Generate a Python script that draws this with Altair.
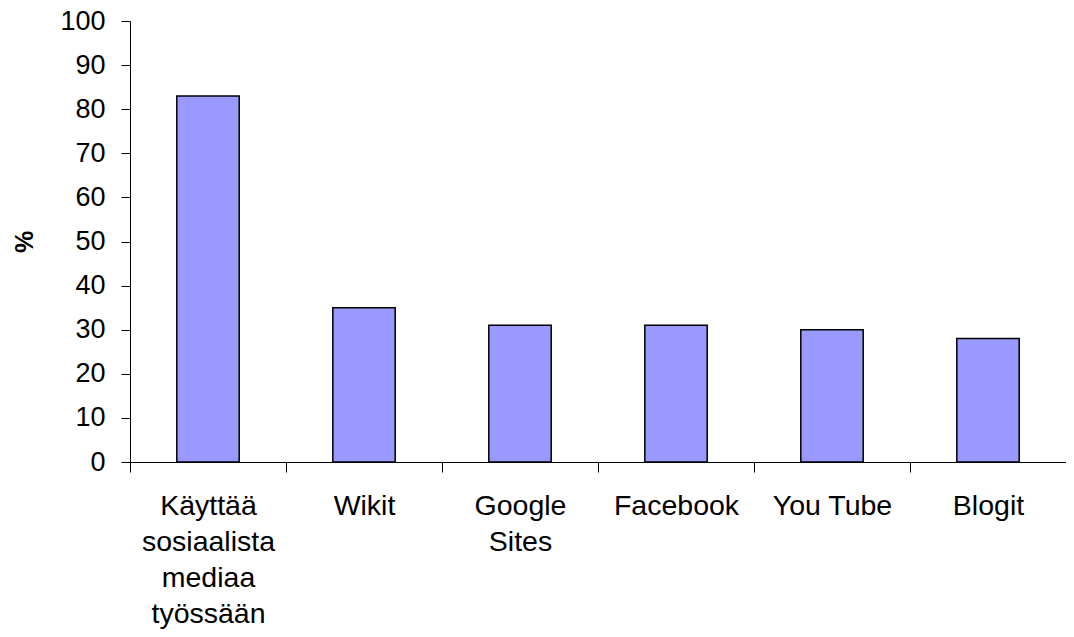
import altair as alt
import pandas as pd

categories = ["Käyttää|sosiaalista|mediaa|työssään", "Wikit", "Google|Sites", "Facebook", "You Tube", "Blogit"]
values = [83, 35, 31, 31, 30, 28]

df = pd.DataFrame({"cat": categories, "val": values})

FONT = "Liberation Sans"

chart = alt.Chart(df).mark_bar(
    color="#9999FF", stroke="black", strokeWidth=1.5,
    width=alt.RelativeBandSize(0.4)
).encode(
    x=alt.X("cat:N", sort=categories, title=None,
            scale=alt.Scale(paddingInner=0, paddingOuter=0),
            axis=alt.Axis(labelAngle=0, labelExpr="split(datum.label, '|')",
                          labelFont=FONT, labelFontSize=28.5, labelLineHeight=36,
                          labelColor="black", labelBaseline="alphabetic", labelPadding=42,
                          tickBand="extent", tickSize=10, tickColor="black",
                          domainColor="black", labelLimit=300)),
    y=alt.Y("val:Q", title="%",
            scale=alt.Scale(domain=[0, 100], nice=False),
            axis=alt.Axis(values=list(range(0, 101, 10)), grid=False,
                          labelFont=FONT, labelFontSize=27, labelColor="black",
                          labelPadding=16, tickSize=9, tickColor="black",
                          domainColor="black",
                          titleFont=FONT, titleFontSize=25, titleFontWeight="bold",
                          titleColor="black", titlePadding=22))
).properties(
    width=936, height=441,
    autosize=alt.AutoSizeParams(type="none"),
    padding={"left": 122, "top": 13, "right": 0, "bottom": 167}
).configure_view(stroke=None)

chart.save("out.html", embed_options={"renderer": "svg", "actions": False})
